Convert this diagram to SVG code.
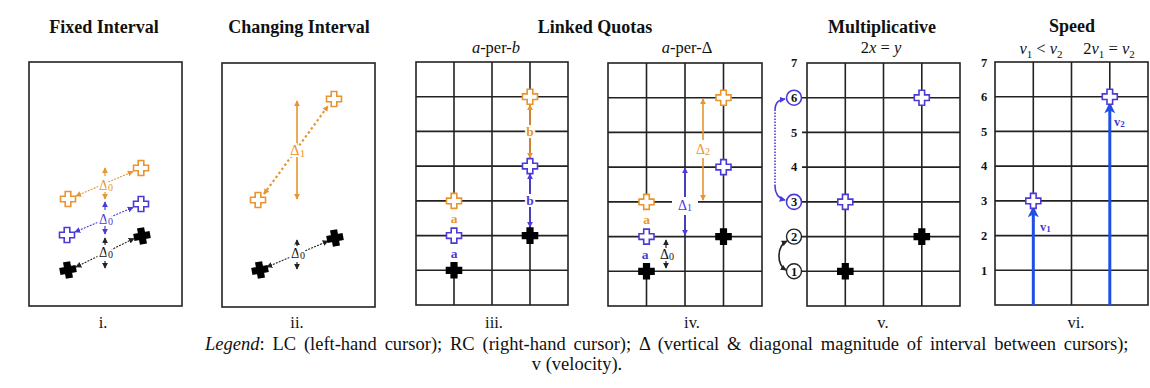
<svg xmlns="http://www.w3.org/2000/svg" width="1150" height="388" viewBox="0 0 1150 388">
<style>
text{font-family:"Liberation Serif","Times New Roman",serif;fill:#111}
.title{font-size:18px;font-weight:bold;text-anchor:middle}
.sub{font-size:16.5px;text-anchor:middle}
.num{font-size:16.5px;text-anchor:middle}
.ax{font-size:12.5px;font-weight:bold;text-anchor:middle}
.box{fill:#fff;stroke:#222;stroke-width:1.6}
.grid{stroke:#222;stroke-width:1.6;fill:none}
.po{fill:#fff;stroke:#E8952F;stroke-width:1.6}
.pp{fill:#fff;stroke:#4A3BD6;stroke-width:1.6}
.pk{fill:#000;stroke:#000;stroke-width:1.6}
.ol{stroke:#E8952F;fill:none}
.pl{stroke:#4A3BD6;fill:none}
.kl{stroke:#222;fill:none}
.dl{font-size:14px}
.lab{font-size:13.5px;font-weight:bold;text-anchor:middle}
.halo{stroke:#fff;stroke-width:4;paint-order:stroke}
.leg{font-size:18.5px}
</style>
<defs>
<path id="plus" d="M-2.8,-7.5 H2.8 V-2.8 H7.5 V2.8 H2.8 V7.5 H-2.8 V2.8 H-7.5 V-2.8 H-2.8 Z"/>
<marker id="ao" viewBox="0 0 8 8" refX="7" refY="4" markerWidth="6" markerHeight="6" markerUnits="userSpaceOnUse" orient="auto-start-reverse"><path d="M0,0 L8,4 L0,8 Z" fill="#E8952F"/></marker>
<marker id="ap" viewBox="0 0 8 8" refX="7" refY="4" markerWidth="6" markerHeight="6" markerUnits="userSpaceOnUse" orient="auto-start-reverse"><path d="M0,0 L8,4 L0,8 Z" fill="#4A3BD6"/></marker>
<marker id="ak" viewBox="0 0 8 8" refX="7" refY="4" markerWidth="6" markerHeight="6" markerUnits="userSpaceOnUse" orient="auto-start-reverse"><path d="M0,0 L8,4 L0,8 Z" fill="#222"/></marker>
<marker id="ab" viewBox="0 0 8 8" refX="6" refY="4" markerWidth="11" markerHeight="11" markerUnits="userSpaceOnUse" orient="auto-start-reverse"><path d="M0,0 L8,4 L0,8 L2,4 Z" fill="#1F4FE6"/></marker>
</defs>

<rect width="1150" height="388" fill="#fff"/>

<!-- Titles -->
<g id="titles">
<text class="title" x="104" y="33">Fixed Interval</text>
<text class="title" x="299" y="33">Changing Interval</text>
<text class="title" x="595" y="33">Linked Quotas</text>
<text class="title" x="882" y="33">Multiplicative</text>
<text class="title" x="1072" y="32">Speed</text>
<text class="sub" x="496" y="53"><tspan font-style="italic">a</tspan>-per-<tspan font-style="italic">b</tspan></text>
<text class="sub" x="687" y="53"><tspan font-style="italic">a</tspan>-per-Δ</text>
<text class="sub" x="881" y="53">2<tspan font-style="italic">x</tspan> = <tspan font-style="italic">y</tspan></text>
<text class="sub" x="1041" y="54"><tspan font-style="italic">v</tspan><tspan font-size="11" dy="4">1</tspan><tspan dy="-4"> &lt; </tspan><tspan font-style="italic">v</tspan><tspan font-size="11" dy="4">2</tspan></text>
<text class="sub" x="1109" y="54">2<tspan font-style="italic">v</tspan><tspan font-size="11" dy="4">1</tspan><tspan dy="-4"> = </tspan><tspan font-style="italic">v</tspan><tspan font-size="11" dy="4">2</tspan></text>
<text class="num" x="103" y="328">i.</text>
<text class="num" x="297" y="328">ii.</text>
<text class="num" x="494" y="328">iii.</text>
<text class="num" x="692" y="328">iv.</text>
<text class="num" x="883" y="328">v.</text>
<text class="num" x="1076" y="328">vi.</text>
</g>

<!-- Panel frames and grids -->
<g id="frames">
<rect class="box" x="29" y="62" width="153" height="244"/>
<rect class="box" x="222" y="63" width="153" height="244"/>
<g id="grid-iii" class="grid">
<rect x="416" y="62" width="152" height="243"/>
<path d="M454,62V305M492,62V305M530,62V305M416,96.7H568M416,131.4H568M416,166.1H568M416,200.9H568M416,235.6H568M416,270.3H568"/>
</g>
<g id="grid-iv" class="grid">
<rect x="608" y="63" width="154" height="243"/>
<path d="M646.5,63V306M685,63V306M723.5,63V306M608,97.7H762M608,132.4H762M608,167.1H762M608,201.9H762M608,236.6H762M608,271.3H762"/>
</g>
<g id="grid-v" class="grid">
<rect x="807" y="63" width="153" height="243"/>
<path d="M845.3,63V306M883.5,63V306M921.8,63V306M802,97.7H960M802,132.4H960M802,167.1H960M802,201.9H960M802,236.6H960M802,271.3H960"/>
</g>
<g id="grid-vi" class="grid">
<rect x="995" y="62" width="153" height="243"/>
<path d="M1033.3,62V305M1071.5,62V305M1109.8,62V305M995,96.7H1148M995,131.4H1148M995,166.1H1148M995,200.9H1148M995,235.6H1148M995,270.3H1148"/>
</g>
</g>

<!-- Connectors -->
<g id="connectors">
<!-- panel i -->
<line class="ol" x1="76" y1="196" x2="133" y2="171.5" stroke-width="1.1" stroke-dasharray="2,1.2" marker-start="url(#ao)" marker-end="url(#ao)"/>
<line class="pl" x1="75" y1="232" x2="133" y2="207.5" stroke-width="1.1" stroke-dasharray="2,1.2" marker-start="url(#ap)" marker-end="url(#ap)"/>
<line class="kl" x1="76" y1="267" x2="134" y2="238.5" stroke-width="1.1" stroke-dasharray="2,1.2" marker-start="url(#ak)" marker-end="url(#ak)"/>
<line class="ol" x1="105" y1="176" x2="105" y2="168" stroke-width="1.2" marker-end="url(#ao)"/>
<line class="ol" x1="105" y1="192" x2="105" y2="199" stroke-width="1.2" marker-end="url(#ao)"/>
<line class="pl" x1="105" y1="210" x2="105" y2="202" stroke-width="1.2" marker-end="url(#ap)"/>
<line class="pl" x1="105" y1="226" x2="105" y2="234" stroke-width="1.2" marker-end="url(#ap)"/>
<line class="kl" x1="105" y1="245" x2="105" y2="238" stroke-width="1.2" marker-end="url(#ak)"/>
<line class="kl" x1="105" y1="261" x2="105" y2="268" stroke-width="1.2" marker-end="url(#ak)"/>
<!-- panel ii -->
<line class="ol" x1="297" y1="101" x2="297" y2="199" stroke-width="1.6" marker-start="url(#ao)" marker-end="url(#ao)"/>
<line class="ol" x1="264" y1="194" x2="328" y2="106" stroke-width="2.2" stroke-dasharray="2.4,2.6" marker-start="url(#ao)" marker-end="url(#ao)"/>
<line class="kl" x1="267" y1="267" x2="328" y2="241" stroke-width="1.1" stroke-dasharray="2,1.2" marker-start="url(#ak)" marker-end="url(#ak)"/>
<line class="kl" x1="297" y1="247" x2="297" y2="240" stroke-width="1.2" marker-end="url(#ak)"/>
<line class="kl" x1="297" y1="262" x2="297" y2="269" stroke-width="1.2" marker-end="url(#ak)"/>
<!-- panel iii -->
<rect x="449" y="209" width="10" height="54" fill="#fff"/>
<line class="ol" x1="530" y1="105" x2="530" y2="158" stroke-width="1.6" marker-start="url(#ao)" marker-end="url(#ao)"/>
<line class="pl" x1="530" y1="174" x2="530" y2="227" stroke-width="1.6" marker-start="url(#ap)" marker-end="url(#ap)"/>
<!-- panel iv -->
<rect x="641.5" y="210" width="10" height="54" fill="#fff"/>
<line class="ol" x1="703" y1="99" x2="703" y2="200" stroke-width="1.6" marker-start="url(#ao)" marker-end="url(#ao)"/>
<line class="pl" x1="685" y1="168" x2="685" y2="235" stroke-width="1.6" marker-start="url(#ap)" marker-end="url(#ap)"/>
<line class="kl" x1="666" y1="248" x2="666" y2="240" stroke-width="1.2" marker-end="url(#ak)"/>
<line class="kl" x1="666" y1="261" x2="666" y2="268" stroke-width="1.2" marker-end="url(#ak)"/>
<!-- panel v -->
<path class="pl" d="M785,200 C777,198 775,193 775,186" stroke-width="1.6" marker-start="url(#ap)"/>
<path class="pl" d="M775,186 V111" stroke-width="1.6" stroke-dasharray="1.6,1.4"/>
<path class="pl" d="M775,111 C775,104 777,100 785,99" stroke-width="1.6" marker-end="url(#ap)"/>
<path class="kl" d="M787,241 C777,246 776,264 786,270" stroke-width="1.6" marker-start="url(#ak)" marker-end="url(#ak)"/>
<!-- panel vi -->
<line x1="1033.3" y1="305" x2="1033.3" y2="209" stroke="#1F4FE6" stroke-width="3" marker-end="url(#ab)"/>
<line x1="1109.8" y1="305" x2="1109.8" y2="105" stroke="#1F4FE6" stroke-width="3" marker-end="url(#ab)"/>
</g>

<!-- Panel i nodes -->
<g id="panel-i">
<use href="#plus" class="po" x="68" y="199"/>
<use href="#plus" class="po" x="141" y="168"/>
<use href="#plus" class="pp" x="67" y="235"/>
<use href="#plus" class="pp" x="141" y="204"/>
<use href="#plus" class="pk" x="68" y="270" transform="rotate(-10 68 270)"/>
<use href="#plus" class="pk" x="142" y="236" transform="rotate(-10 142 236)"/>
<text class="dl halo" x="99" y="190" style="fill:#E8952F">Δ<tspan font-size="10" dy="1">0</tspan></text>
<text class="dl halo" x="99" y="224" style="fill:#4A3BD6">Δ<tspan font-size="10" dy="1">0</tspan></text>
<text class="dl halo" x="99" y="257">Δ<tspan font-size="10" dy="1">0</tspan></text>
</g>

<!-- Panel ii nodes -->
<g id="panel-ii">
<use href="#plus" class="po" x="258" y="200"/>
<use href="#plus" class="po" x="334" y="99"/>
<use href="#plus" class="pk" x="260" y="270" transform="rotate(-10 260 270)"/>
<use href="#plus" class="pk" x="335" y="238" transform="rotate(-10 335 238)"/>
<text class="halo" x="290" y="155" font-size="15" style="fill:#E8952F">Δ<tspan font-size="11" dy="2">1</tspan></text>
<text class="dl halo" x="291" y="258">Δ<tspan font-size="10" dy="1">0</tspan></text>
</g>

<!-- Panel iii nodes -->
<g id="panel-iii">
<use href="#plus" class="po" x="454" y="200.9"/>
<use href="#plus" class="pp" x="454" y="235.6"/>
<use href="#plus" class="pk" x="454" y="270.3"/>
<use href="#plus" class="po" x="530" y="96.7"/>
<use href="#plus" class="pp" x="530" y="166.1"/>
<use href="#plus" class="pk" x="530" y="235.6"/>
<text class="lab" x="454" y="223" style="fill:#E8952F">a</text>
<text class="lab" x="454" y="258" style="fill:#4A3BD6">a</text>
<text class="lab halo" x="530" y="136" style="fill:#E8952F">b</text>
<text class="lab halo" x="530" y="205" style="fill:#4A3BD6">b</text>
</g>

<!-- Panel iv nodes -->
<g id="panel-iv">
<use href="#plus" class="po" x="646.5" y="201.9"/>
<use href="#plus" class="pp" x="646.5" y="236.6"/>
<use href="#plus" class="pk" x="646.5" y="271.3"/>
<use href="#plus" class="po" x="723.5" y="97.7"/>
<use href="#plus" class="pp" x="723.5" y="167.1"/>
<use href="#plus" class="pk" x="723.5" y="236.6"/>
<text class="lab" x="646.5" y="224" style="fill:#E8952F">a</text>
<text class="lab" x="645" y="259" style="fill:#4A3BD6">a</text>
<text class="dl" x="660" y="259">Δ<tspan font-size="10" dy="1">0</tspan></text>
<rect x="672" y="197" width="26" height="18" fill="#fff"/>
<text class="dl" x="678" y="210" style="fill:#4A3BD6">Δ<tspan font-size="10" dy="1">1</tspan></text>
<rect x="695" y="140" width="18" height="18" fill="#fff"/>
<text class="dl" x="696" y="154" style="fill:#E8952F">Δ<tspan font-size="10" dy="1">2</tspan></text>
</g>

<!-- Panel v nodes -->
<g id="panel-v">
<text class="ax" x="794" y="67">7</text>
<circle cx="794" cy="97.7" r="7.5" fill="#fff" stroke="#4A3BD6" stroke-width="1.6"/>
<text class="ax" x="794" y="101.9">6</text>
<text class="ax" x="794" y="136.6">5</text>
<text class="ax" x="794" y="171.3">4</text>
<circle cx="794" cy="201.9" r="7.5" fill="#fff" stroke="#4A3BD6" stroke-width="1.6"/>
<text class="ax" x="794" y="206.1">3</text>
<circle cx="794" cy="236.6" r="7.5" fill="#fff" stroke="#222" stroke-width="1.4"/>
<text class="ax" x="794" y="240.8">2</text>
<circle cx="794" cy="271.3" r="7.5" fill="#fff" stroke="#222" stroke-width="1.4"/>
<text class="ax" x="794" y="275.5">1</text>
<use href="#plus" class="pp" x="845.3" y="201.9"/>
<use href="#plus" class="pp" x="921.8" y="97.7"/>
<use href="#plus" class="pk" x="845.3" y="271.3"/>
<use href="#plus" class="pk" x="921.8" y="236.6"/>
</g>

<!-- Panel vi nodes -->
<g id="panel-vi">
<text class="ax" x="984" y="67">7</text>
<text class="ax" x="984" y="100.9">6</text>
<text class="ax" x="984" y="135.6">5</text>
<text class="ax" x="984" y="170.3">4</text>
<text class="ax" x="984" y="205.1">3</text>
<text class="ax" x="984" y="239.8">2</text>
<text class="ax" x="984" y="274.5">1</text>
<use href="#plus" class="pp" x="1033.3" y="200.9"/>
<use href="#plus" class="pp" x="1109.8" y="96.7"/>
<text x="1040" y="231" font-size="12.5" font-weight="bold" style="fill:#3A3BD6">v<tspan font-size="9" dy="1">1</tspan></text>
<text x="1114" y="126" font-size="12.5" font-weight="bold" style="fill:#3A3BD6">v<tspan font-size="9" dy="1">2</tspan></text>
</g>

<!-- Legend -->
<g id="legend">
<text class="leg" x="205" y="350" word-spacing="3.2"><tspan font-style="italic">Legend</tspan>: LC (left-hand cursor); RC (right-hand cursor); Δ (vertical &amp; diagonal magnitude of interval between cursors);</text>
<text class="leg" x="577" y="370" text-anchor="middle">v (velocity).</text>
</g>
</svg>
